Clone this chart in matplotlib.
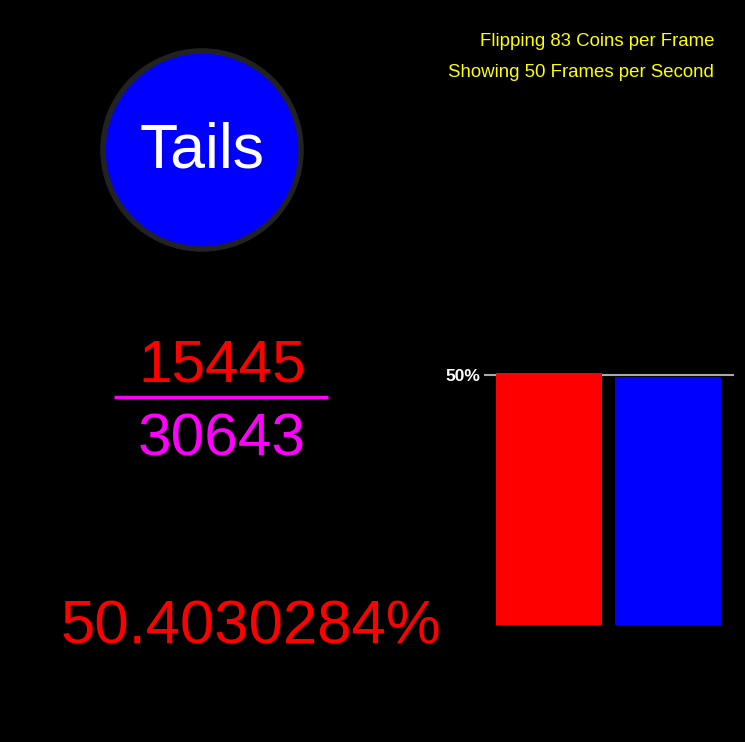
import matplotlib
matplotlib.use("Agg")
import matplotlib.pyplot as plt
from matplotlib.patches import Circle

plt.rcParams['font.family'] = ['Liberation Sans', 'DejaVu Sans']

# Data
categories = ['Heads', 'Tails']
heads = 15445
total = 30643
fractions = [heads / total, (total - heads) / total]
bar_colors = ['#ff0000', '#0000ff']
coin_label = 'Tails'
coins_per_frame = 83
frames_per_second = 50
ref_tick = [0.5]
ref_tick_labels = ['50%']

W, H = 745, 742
fig = plt.figure(figsize=(W / 100, H / 100), dpi=100, facecolor='black')

# Overlay axes in pixel coordinates (y down)
ov = fig.add_axes([0, 0, 1, 1])
ov.set_xlim(0, W)
ov.set_ylim(H, 0)
ov.axis('off')
ov.set_facecolor('black')

# Coin
ov.add_patch(Circle((202, 150), 99, facecolor='#0000ff', edgecolor='#222222', linewidth=4))
ov.text(202, 167, coin_label, color='white', fontsize=45, ha='center', va='baseline')

# Fraction
ov.text(222, 381, str(heads), color='#ff0000', fontsize=43.5, ha='center', va='baseline')
ov.plot([114, 328], [397, 397], color='#ff00ff', linewidth=2.5, solid_capstyle='butt')
ov.text(222, 455, str(total), color='#ff00ff', fontsize=43.5, ha='center', va='baseline')

# Percentage
ov.text(250.5, 643, f"{fractions[0]*100:.7f}%", color='#ff0000', fontsize=44.5, ha='center', va='baseline')

# Info text
ov.text(714, 46, f"Flipping {coins_per_frame} Coins per Frame", color='#ffff00', fontsize=13.4, ha='right', va='baseline')
ov.text(714, 77, f"Showing {frames_per_second} Frames per Second", color='#ffff00', fontsize=13.4, ha='right', va='baseline')

# Bar chart axes: x 484..734 px, y 0 at 625 px, 1.0 at 125 px
left = 484 / W
bottom = (H - 625) / H
ax = fig.add_axes([left, bottom, 250 / W, 500 / H])
ax.set_facecolor('none')
ax.bar(range(len(categories)), fractions, width=106 / 119, color=bar_colors, zorder=2)
ax.axhline(ref_tick[0], color='#aaaaaa', linewidth=1.5, zorder=1)
ax.set_xlim(-65 / 119, 1 + 66 / 119)
ax.set_ylim(0, 1)
ax.set_yticks(ref_tick)
ax.set_yticklabels(ref_tick_labels, color='white', fontweight='bold', fontsize=12.5)
ax.tick_params(axis='y', length=0, pad=3)
ax.set_xticks([])
for s in ax.spines.values():
    s.set_visible(False)

fig.savefig('out.png', dpi=100, facecolor='black')
